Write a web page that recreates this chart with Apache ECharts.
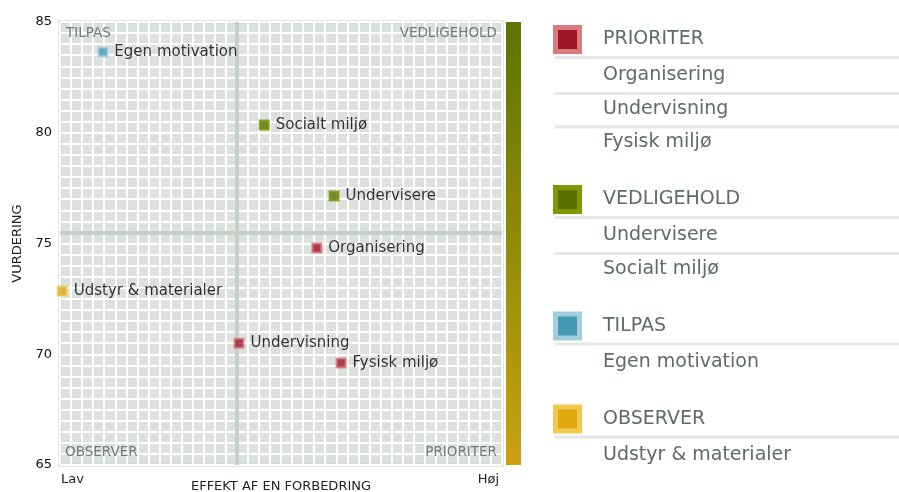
<!DOCTYPE html>
<html>
<head>
<meta charset="utf-8">
<title>Prioriteringsmatrix</title>
<script src="https://cdn.jsdelivr.net/npm/echarts@6/dist/echarts.min.js"></script>
<style>
  html, body { margin: 0; padding: 0; background: #fff; }
  #chart { width: 899px; height: 492px; }
</style>
</head>
<body>
<div id="chart"></div>
<script>
// data
const names = ['Egen motivation', 'Socialt miljø', 'Undervisere', 'Organisering', 'Udstyr & materialer', 'Undervisning', 'Fysisk miljø']
const effekt = [9.7, 46.2, 62, 58.1, 0.5, 40.5, 63.6]
const vurdering = [83.65, 80.35, 77.15, 74.8, 72.85, 70.5, 69.6]
const groups = ['TILPAS', 'VEDLIGEHOLD', 'VEDLIGEHOLD', 'PRIORITER', 'OBSERVER', 'PRIORITER', 'PRIORITER']

const yTicks = [65, 70, 75, 80, 85]
const xSplit = 40
const ySplit = 75.5

// legend
const legendGroups = ['PRIORITER', 'VEDLIGEHOLD', 'TILPAS', 'OBSERVER']
const legendItems = [
  ['Organisering', 'Undervisning', 'Fysisk miljø'],
  ['Undervisere', 'Socialt miljø'],
  ['Egen motivation'],
  ['Udstyr & materialer']
]
const groupColors = ['#9c1528', '#5a7000', '#4499b4', '#e0a912']
const groupBorders = ['#d97a7c', '#7d9a00', '#a3cedd', '#f2c94f']

const font = 'DejaVu Sans, Verdana, sans-serif'
const chart = echarts.init(document.getElementById('chart'))

// one scatter series per quadrant
const series = legendGroups.map((g, gi) => ({
  name: g,
  type: 'scatter',
  symbol: 'rect',
  symbolSize: 9,
  itemStyle: { color: groupColors[gi], borderColor: groupBorders[gi], borderWidth: 2 },
  label: {
    show: true,
    position: 'right',
    distance: 6,
    formatter: p => p.data[2],
    fontSize: 15,
    fontFamily: font,
    color: '#000'
  },
  data: names.map((n, i) => [effekt[i], vurdering[i], n]).filter((d, i) => groups[i] === g),
  z: 5
}))

// quadrant divider lines
series.push({
  type: 'scatter',
  data: [],
  silent: true,
  markLine: {
    silent: true,
    symbol: 'none',
    label: { show: false },
    lineStyle: { color: '#c5d0c6', width: 4, type: 'solid' },
    data: [{ xAxis: xSplit }, { yAxis: ySplit }]
  },
  z: 3
})

// legend drawn as graphic elements
const graphics = []
let y = 40
legendGroups.forEach((g, gi) => {
  const rows = [g].concat(legendItems[gi])
  graphics.push({
    type: 'rect', left: 553, top: y - 15, shape: { width: 29, height: 29 },
    style: { fill: groupBorders[gi] }
  })
  graphics.push({
    type: 'rect', left: 558, top: y - 10, shape: { width: 19, height: 19 },
    style: { fill: groupColors[gi] }
  })
  rows.forEach((r, ri) => {
    const ry = ri === 0 ? y : y + 36 + (ri - 1) * 33.5
    graphics.push({
      type: 'text', left: 603, top: ry - 10,
      style: { text: r, fontSize: 19, fontFamily: font, fill: '#5f6b64' }
    })
    if (ri < rows.length - 1) {
      graphics.push({
        type: 'rect', left: 555, top: ry + 16, shape: { width: 344, height: 3 },
        style: { fill: '#e6e6e6' }
      })
    }
    if (ri === rows.length - 1) y = ry + 57
  })
})

// colour bar next to the plot
graphics.push({
  type: 'rect', left: 506, top: 22, shape: { width: 15, height: 443 },
  style: {
    fill: new echarts.graphic.LinearGradient(0, 0, 0, 1, [
      { offset: 0, color: '#5c7400' },
      { offset: 1, color: '#c9a212' }
    ])
  }
})

// quadrant names
const quadStyle = { fontSize: 13.5, fontFamily: font, fill: '#6e7c74' }
graphics.push({ type: 'text', z: 20, left: 66, top: 26, style: Object.assign({ text: 'TILPAS' }, quadStyle) })
graphics.push({ type: 'text', z: 20, right: 402, top: 26, style: Object.assign({ text: 'VEDLIGEHOLD' }, quadStyle) })
graphics.push({ type: 'text', z: 20, left: 65, top: 445, style: Object.assign({ text: 'OBSERVER' }, quadStyle) })
graphics.push({ type: 'text', z: 20, right: 402, top: 445, style: Object.assign({ text: 'PRIORITER' }, quadStyle) })

// x axis end labels
const axStyle = { fontSize: 13, fontFamily: font, fill: '#222' }
graphics.push({ type: 'text', left: 61, top: 473, style: Object.assign({ text: 'Lav' }, axStyle) })
graphics.push({ type: 'text', right: 400, top: 473, style: Object.assign({ text: 'Høj' }, axStyle) })

const option = {
  animation: false,
  grid: {
    left: 60, top: 22, width: 442, height: 443,
    outerBoundsMode: 'none',
    containLabel: false,
    show: true,
    backgroundColor: '#dce1de',
    borderColor: '#c6d1c7',
    borderWidth: 3,
    z: 0
  },
  xAxis: {
    type: 'value', min: 0, max: 100, interval: 25,
    name: 'EFFEKT AF EN FORBEDRING',
    nameLocation: 'middle',
    nameGap: 15,
    nameTextStyle: { fontSize: 13, fontFamily: font, color: '#222' },
    axisLine: { show: false },
    axisTick: { show: false },
    axisLabel: { show: false },
    splitLine: { show: true, lineStyle: { color: '#fff', width: 2 } },
    minorTick: { show: false, splitNumber: 10 },
    minorSplitLine: { show: true, lineStyle: { color: '#fff', width: 2 } }
  },
  yAxis: {
    type: 'value', min: yTicks[0], max: yTicks[yTicks.length - 1], interval: 5,
    name: 'VURDERING',
    nameLocation: 'middle',
    nameGap: 36,
    nameRotate: 90,
    nameTextStyle: { fontSize: 13, fontFamily: font, color: '#222' },
    axisLine: { show: false },
    axisTick: { show: false },
    axisLabel: { fontSize: 13, fontFamily: font, color: '#111', margin: 8 },
    splitLine: { show: true, lineStyle: { color: '#fff', width: 2 } },
    minorTick: { show: false, splitNumber: 10 },
    minorSplitLine: { show: true, lineStyle: { color: '#fff', width: 2 } }
  },
  series: series,
  graphic: graphics
}

chart.setOption(option)
</script>
</body>
</html>
